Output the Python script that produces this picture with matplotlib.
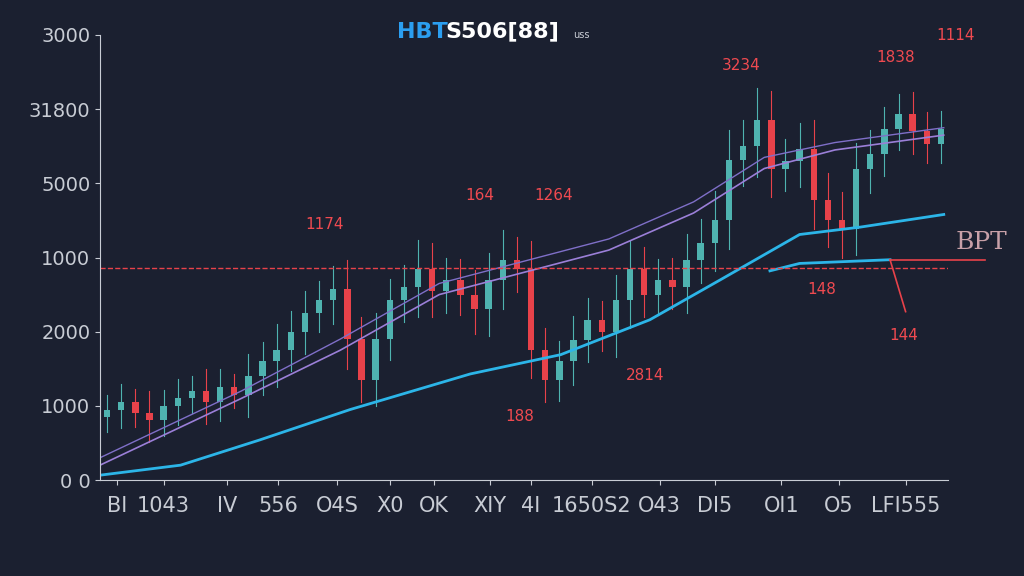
import matplotlib
matplotlib.use("Agg")
import matplotlib.pyplot as plt
import numpy as np

# candle closes (open = previous close)
closes = [950, 1050, 900, 810, 1000, 1100, 1200, 1050, 1250, 1150,
          1400, 1600, 1750, 2000, 2250, 2430, 2570, 1900, 1350, 1900,
          2430, 2600, 2840, 2550, 2700, 2500, 2300, 2700, 2970, 2840,
          1750, 1350, 1600, 1890, 2160, 2000, 2430, 2840, 2500, 2700,
          2600, 2970, 3200, 3510, 4320, 4500, 4860, 4190, 4300, 4460,
          3780, 3500, 3380, 4190, 4400, 4730, 4930, 4700, 4530, 4730]
wick = [200, 250, 180, 300, 220, 260, 200, 300, 250, 180,
        300, 260, 350, 280, 300, 250, 320, 400, 300, 350,
        280, 300, 400, 350, 300, 280, 330, 360, 400, 300,
        380, 300, 280, 320, 300, 260, 340, 380, 300, 280,
        300, 350, 320, 380, 400, 350, 420, 380, 300, 350,
        400, 360, 380, 350, 320, 300, 280, 300, 260, 250]

cyan_x = [0, 5.7, 11.3, 17.7, 26.2, 32.6, 38.9, 43.9, 49.5, 53.8, 59.7]
cyan_y = [65, 200, 540, 950, 1430, 1690, 2160, 2700, 3310, 3410, 3580]
cyan2_x = [47.4, 49.5, 55.9, 57.0]
cyan2_y = [2820, 2920, 2970, 2270]
ma1_x = [0, 5, 10, 17, 24, 30, 36, 42, 47, 52, 59.7]
ma1_y = [200, 650, 1100, 1750, 2500, 2800, 3100, 3600, 4200, 4450, 4650]
ma2_x = [0, 5, 10, 17, 24, 30, 36, 42, 47, 52, 59.7]
ma2_y = [300, 750, 1200, 1900, 2650, 2950, 3250, 3750, 4350, 4550, 4750]
level = 2860

y_ticks = [0, 1000, 2000, 3000, 4000, 5000, 6000]
y_labels = ["0 0", "1000", "2000", "1000", "5000", "31800", "3000"]
x_labels = ["BI", "1043", "IV", "556", "O4S", "X0", "OK", "XIY", "4I",
            "1650S2", "O43", "DI5", "OI1", "O5", "LFI555"]
x_ticks = [1.2, 4.5, 9.0, 12.6, 16.8, 20.5, 23.6, 27.6, 30.5,
           34.8, 39.6, 43.5, 48.2, 52.3, 57.0]

notes = [("1174", 15.9, 3440), ("164", 26.9, 3840), ("1264", 32.1, 3840),
         ("3234", 45.4, 5590), ("1838", 56.3, 5700), ("1114", 60.5, 5990),
         ("148", 51.1, 2570), ("144", 56.9, 1950), ("2814", 38.6, 1410),
         ("188", 29.7, 860)]

bg = "#1b2030"
fig = plt.figure(figsize=(10.24, 5.76), dpi=100, facecolor=bg)
ax = fig.add_axes([100 / 1024, 96 / 576, 848 / 1024, 445 / 576], facecolor=bg)

opens = [closes[0] - 100] + closes[:-1]
for i, (o, c, w) in enumerate(zip(opens, closes, wick)):
    col = "#4fb3b0" if c >= o else "#e8424a"
    ax.plot([i + 0.5, i + 0.5], [min(o, c) - w, max(o, c) + w], color=col, lw=0.8)
    ax.bar(i + 0.5, max(abs(c - o), 40), bottom=min(o, c), width=0.45, color=col)

ax.plot(ma1_x, ma1_y, color="#9b7fd8", lw=1.2)
ax.plot(ma2_x, ma2_y, color="#7f6fc8", lw=1.0)
ax.plot(cyan_x, cyan_y, color="#2cb5e8", lw=2)
ax.plot(cyan2_x[:3], cyan2_y[:3], color="#2cb5e8", lw=2)
ax.plot(cyan2_x[2:], cyan2_y[2:], color="#e8424a", lw=1.2)
ax.axhline(level, color="#e8424a", ls="--", lw=1)
ax.plot([55.9, 62.6], [2970, 2970], color="#e8424a", lw=1.2, clip_on=False)

for t, x, y in notes:
    ax.text(x, y, t, color="#f04a50", fontsize=11, ha="center", va="center")
ax.text(60.5, 3200, "BPT", color="#c8a0a8", fontsize=18, family="DejaVu Serif",
        ha="left", va="center")

ax.set_xlim(0, 60)
ax.set_ylim(0, 6000)
ax.set_yticks(y_ticks)
ax.set_yticklabels(y_labels)
ax.set_xticks(x_ticks)
ax.set_xticklabels(x_labels)
ax.tick_params(colors="#c8ccd4", labelsize=14)
ax.tick_params(axis="x", labelsize=15, pad=8)
for s in ["top", "right"]:
    ax.spines[s].set_visible(False)
for s in ["left", "bottom"]:
    ax.spines[s].set_color("#c8ccd4")

fig.text(0.388, 0.945, "HBT", color="#2b9ef0", fontsize=16, fontweight="bold", va="center")
fig.text(0.435, 0.945, "S506[88]", color="white", fontsize=16, fontweight="bold", va="center")
fig.text(0.56, 0.94, "uss", color="#c8ccd4", fontsize=7, va="center")

fig.savefig("out.png", dpi=100, facecolor=bg)
